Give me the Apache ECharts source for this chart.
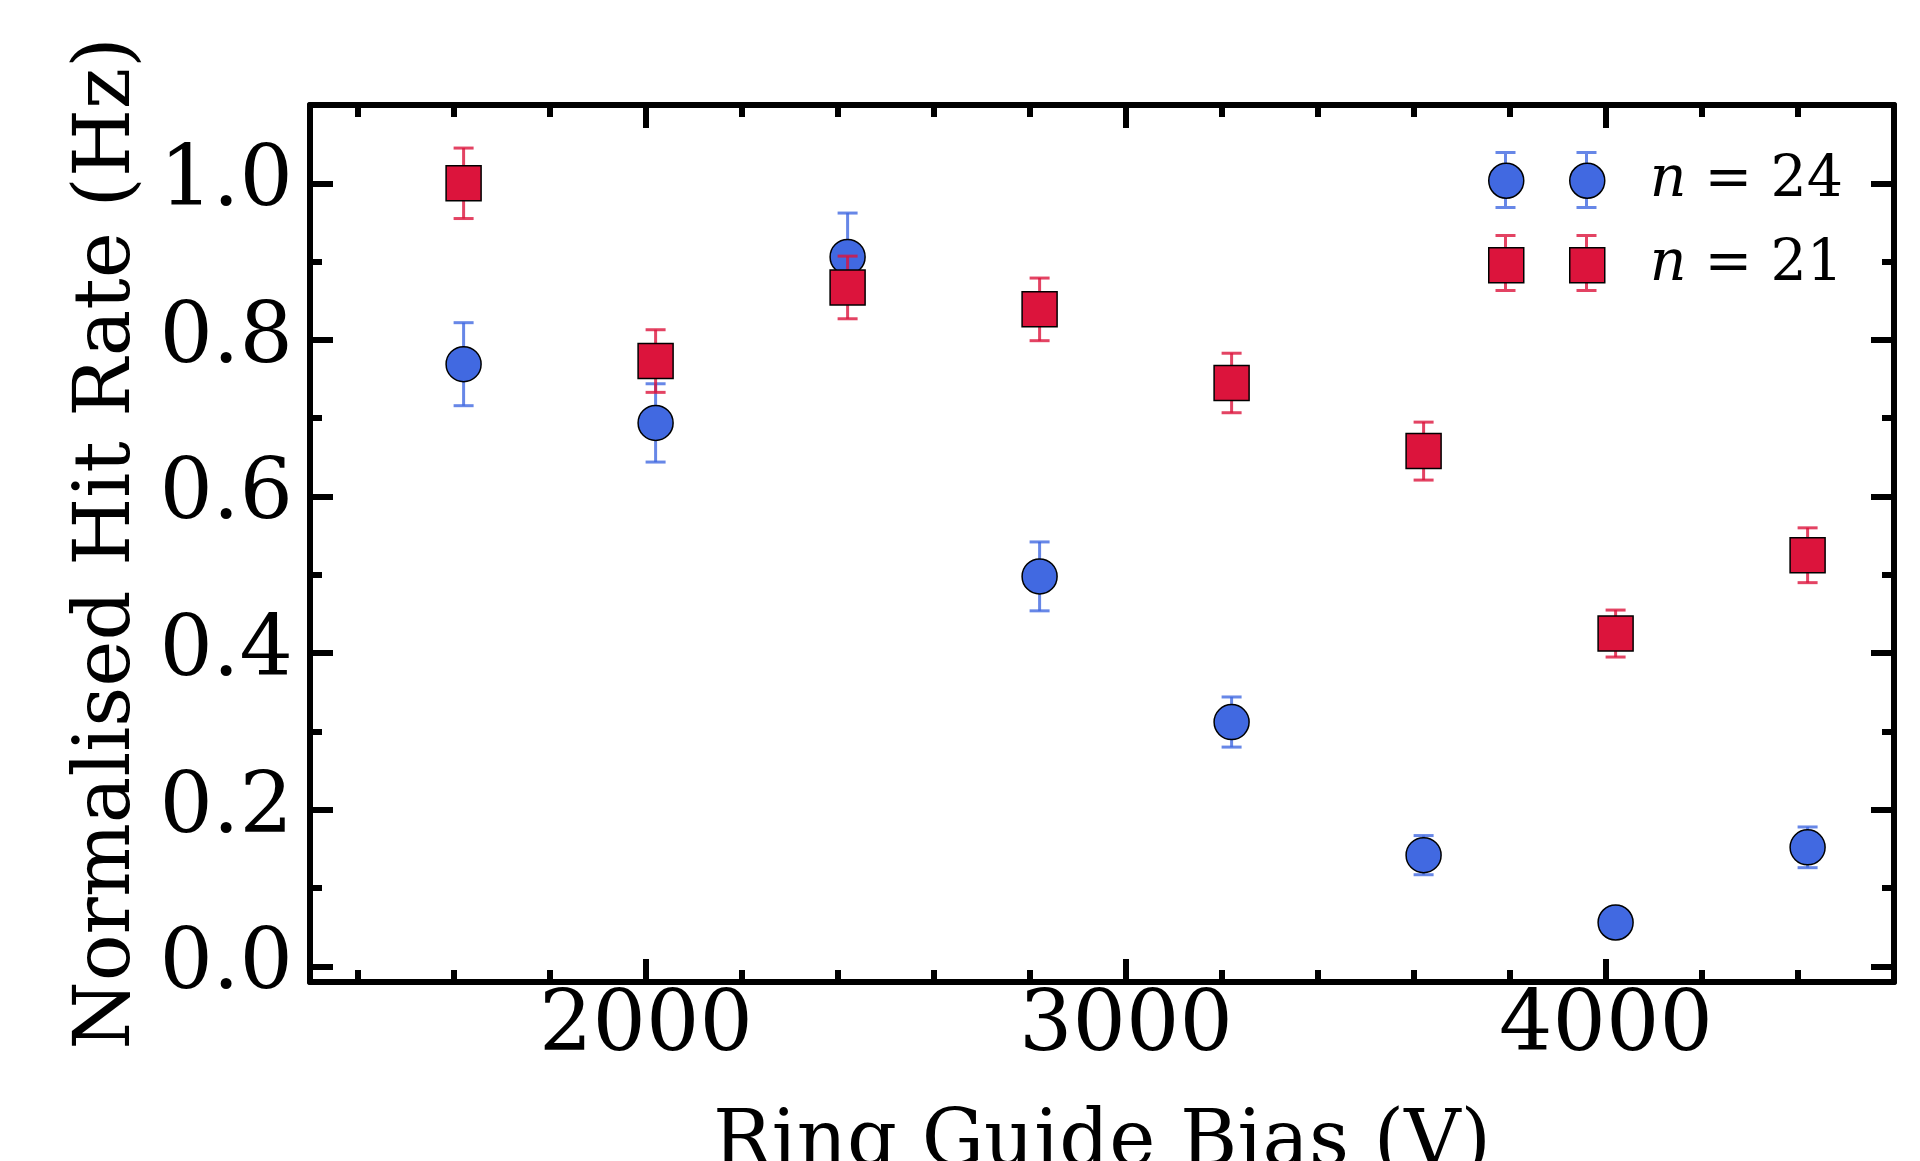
<!DOCTYPE html>
<html>
<head>
<meta charset="utf-8">
<title>Normalised Hit Rate vs Ring Guide Bias</title>
<script src="https://cdn.jsdelivr.net/npm/echarts@6/dist/echarts.min.js"></script>
<style>
  html, body { margin: 0; padding: 0; background: #fff; }
  #chart { width: 1920px; height: 1161px; }
</style>
</head>
<body>
<div id="chart"></div>
<script>
// ring guide bias (V)
const biasVolts = [1620, 2020, 2420, 2820, 3220, 3620, 4020, 4420]

// n = 24
const rateN24 = [0.769, 0.694, 0.906, 0.498, 0.312, 0.142, 0.056, 0.152]
const errN24 = [0.053, 0.050, 0.056, 0.044, 0.032, 0.025, 0.008, 0.026]

// n = 21
const rateN21 = [1.000, 0.773, 0.867, 0.839, 0.745, 0.658, 0.425, 0.525]
const errN21 = [0.045, 0.040, 0.040, 0.040, 0.038, 0.037, 0.030, 0.035]

const FONT = 'DejaVu Serif'
const BLUE = '#4169E1'
const RED = '#DC143C'
const BLUE_BAR = 'rgba(65,105,225,0.8)'
const RED_BAR = 'rgba(220,20,60,0.8)'

// legend glyphs (116 x 58 box, two points each, numpoints = 2 style)
// corner anchors keep both icon layers on the same bounding box
const ANCHORS = 'M0,0L0,0 M116,58L116,58 '
const barIcon = 'path://' + ANCHORS +
  'M7.5,0L27.5,0L27.5,3L7.5,3Z M16,3L19,3L19,55L16,55Z M7.5,55L27.5,55L27.5,58L7.5,58Z ' +
  'M88.5,0L108.5,0L108.5,3L88.5,3Z M97,3L100,3L100,55L97,55Z M88.5,55L108.5,55L108.5,58L88.5,58Z'
const circleIcon = 'path://' + ANCHORS +
  'M0,29A17.5,17.5 0 1,1 35,29A17.5,17.5 0 1,1 0,29Z M81,29A17.5,17.5 0 1,1 116,29A17.5,17.5 0 1,1 81,29Z'
const squareIcon = 'path://' + ANCHORS +
  'M0,11.5L35,11.5L35,46.5L0,46.5Z M81,11.5L116,11.5L116,46.5L81,46.5Z'

const chart = echarts.init(document.getElementById('chart'))

/**
 * error bar drawn from [x, low, high]
 */
const errorBar = (color) => (params, api) => {
  const x = api.value(0)
  const top = api.coord([x, api.value(2)])
  const bot = api.coord([x, api.value(1)])
  const hw = 10
  const style = { stroke: color, lineWidth: 3 }
  return {
    type: 'group',
    children: [
      { type: 'line', shape: { x1: top[0], y1: top[1], x2: bot[0], y2: bot[1] }, style },
      { type: 'line', shape: { x1: top[0] - hw, y1: top[1], x2: top[0] + hw, y2: top[1] }, style },
      { type: 'line', shape: { x1: bot[0] - hw, y1: bot[1], x2: bot[0] + hw, y2: bot[1] }, style }
    ]
  }
}

const barData = (rates, errs) => biasVolts.map((x, i) => [x, rates[i] - errs[i], rates[i] + errs[i]])
const pointData = (rates) => biasVolts.map((x, i) => [x, rates[i]])

const tickLine = { color: '#000', width: 6 }

const xAxisBase = {
  type: 'value',
  min: 1300,
  max: 4600,
  splitNumber: 4,
  axisLine: { onZero: false, lineStyle: { color: '#000', width: 6 } },
  axisTick: { inside: true, length: 23, lineStyle: tickLine },
  minorTick: { show: true, splitNumber: 5, length: 12, lineStyle: tickLine },
  splitLine: { show: false },
  minorSplitLine: { show: false }
}

const yAxisBase = {
  type: 'value',
  min: -0.02,
  max: 1.1,
  splitNumber: 5,
  axisLine: { onZero: false, lineStyle: { color: '#000', width: 6 } },
  axisTick: { inside: true, length: 23, lineStyle: tickLine },
  minorTick: { show: true, splitNumber: 2, length: 12, lineStyle: tickLine },
  splitLine: { show: false },
  minorSplitLine: { show: false }
}

const legendBase = {
  orient: 'vertical',
  left: 1488,
  top: 151,
  padding: 0,
  itemWidth: 116,
  itemHeight: 58,
  itemGap: 25,
  selectedMode: false
}

const legendText = {
  fontFamily: FONT,
  fontSize: 57,
  color: '#000',
  lineHeight: 58,
  rich: {
    i: { fontFamily: FONT, fontStyle: 'italic', fontSize: 57, color: '#000', padding: [0, 0, 0, 40] }
  }
}

const option = {
  backgroundColor: '#fff',
  animation: false,
  textStyle: { fontFamily: FONT },
  grid: { left: 310, right: 26, top: 105, bottom: 179, outerBoundsMode: 'none', containLabel: false },
  legend: [
    // error bar layer
    Object.assign({}, legendBase, {
      z: 4,
      data: [
        { name: 'n = 24', icon: barIcon, itemStyle: { color: BLUE_BAR, borderWidth: 0 } },
        { name: 'n = 21', icon: barIcon, itemStyle: { color: RED_BAR, borderWidth: 0 } }
      ],
      formatter: () => '',
      textStyle: legendText
    }),
    // marker + label layer
    Object.assign({}, legendBase, {
      z: 5,
      data: [
        { name: 'n = 24', icon: circleIcon, itemStyle: { color: BLUE, borderColor: '#000', borderWidth: 1.5 } },
        { name: 'n = 21', icon: squareIcon, itemStyle: { color: RED, borderColor: '#000', borderWidth: 1.5 } }
      ],
      formatter: (name) => name.replace('n', '{i|n}'),
      textStyle: legendText
    })
  ],
  xAxis: [
    Object.assign({}, xAxisBase, {
      position: 'bottom',
      axisLabel: {
        fontFamily: FONT, fontSize: 84, color: '#000', margin: 4,
        showMinLabel: false, showMaxLabel: false,
        formatter: (v) => String(v)
      },
      name: 'Ring Guide Bias (V)',
      nameLocation: 'middle',
      nameGap: 124,
      nameTextStyle: { fontFamily: FONT, fontSize: 78, color: '#000' }
    }),
    Object.assign({}, xAxisBase, { position: 'top', axisLabel: { show: false } })
  ],
  yAxis: [
    Object.assign({}, yAxisBase, {
      position: 'left',
      axisLabel: {
        fontFamily: FONT, fontSize: 84, color: '#000', margin: 17,
        showMinLabel: false, showMaxLabel: false,
        formatter: (v) => v.toFixed(1)
      },
      name: 'Normalised Hit Rate (Hz)',
      nameLocation: 'middle',
      nameRotate: 90,
      nameGap: 162,
      nameTextStyle: { fontFamily: FONT, fontSize: 78, color: '#000' }
    }),
    Object.assign({}, yAxisBase, { position: 'right', axisLabel: { show: false } })
  ],
  series: [
    {
      type: 'custom',
      name: 'err24',
      renderItem: errorBar(BLUE_BAR),
      data: barData(rateN24, errN24),
      encode: { x: 0, y: [1, 2] },
      z: 2
    },
    {
      type: 'scatter',
      name: 'n = 24',
      symbol: 'circle',
      symbolSize: 35,
      itemStyle: { color: BLUE, borderColor: '#000', borderWidth: 1.5, opacity: 1 },
      data: pointData(rateN24),
      z: 3
    },
    {
      type: 'custom',
      name: 'err21',
      renderItem: errorBar(RED_BAR),
      data: barData(rateN21, errN21),
      encode: { x: 0, y: [1, 2] },
      z: 4
    },
    {
      type: 'scatter',
      name: 'n = 21',
      symbol: 'rect',
      symbolSize: 35,
      itemStyle: { color: RED, borderColor: '#000', borderWidth: 1.5, opacity: 1 },
      data: pointData(rateN21),
      z: 5
    }
  ]
}

chart.setOption(option)
</script>
</body>
</html>
